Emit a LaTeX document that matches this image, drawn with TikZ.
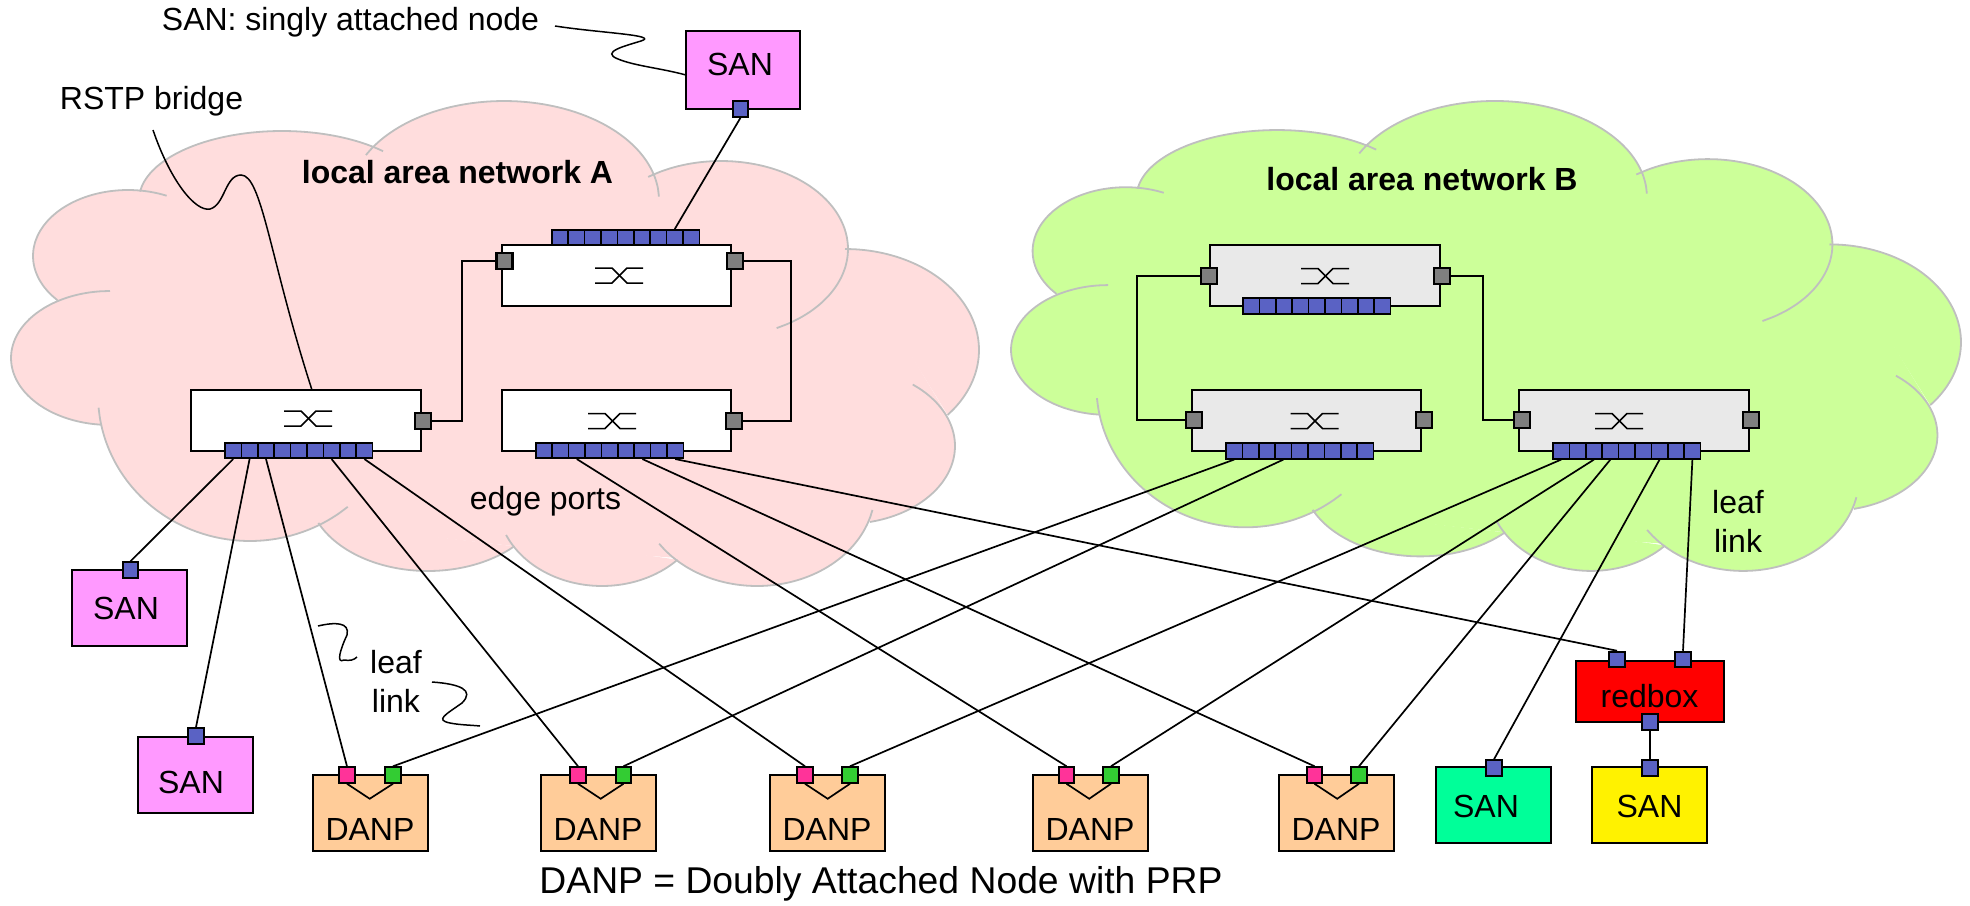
\documentclass[tikz,border=0pt]{standalone}
\usepackage{fontspec}
\setmainfont{Liberation Sans}
\definecolor{areaA}{HTML}{FFDDDD}
\definecolor{areaB}{HTML}{CCFF99}
\definecolor{outlinegray}{HTML}{BFBFBF}
\definecolor{portblue}{HTML}{5A62C4}
\definecolor{portgray}{HTML}{7F7F7F}
\definecolor{portpink}{HTML}{FF3399}
\definecolor{portgreen}{HTML}{33CC33}
\definecolor{bridgegray}{HTML}{E9E9E9}
\definecolor{sanpink}{HTML}{FF99FF}
\definecolor{danporange}{HTML}{FFCC99}
\definecolor{sangreen}{HTML}{00FF99}
\newcommand{\cloudbody}{
  (102,425) -- (57,300) -- (140,189) -- (376,147) -- (650,178) -- (848,249)
  -- (947,415) -- (870,520) -- (678,558) -- (513,546) -- (325,525) -- cycle
}
%% one bump of a cloud: centre x, centre y, radius x, radius y, from angle, to angle, looks
\newcommand{\bump}[7]{
  \path[#7] plot[domain=#5:#6,smooth,samples=30] ({#1+#3*cos(\x)},{#2+#4*sin(\x)});
}
\newcommand{\cloudlobes}[1]{
  \bump{110}{358}{99}{67}{95}{270}{#1}
  \bump{128}{256}{95}{66}{138}{294}{#1}
  \bump{282}{200}{143}{69}{187}{315}{#1}
  \bump{504}{200}{155}{99}{207}{358}{#1}
  \bump{721}{249}{127}{88}{235}{424}{#1}
  \bump{845}{350}{134}{101}{270}{400}{#1}
  \bump{845}{446}{110}{78}{308}{437}{#1}
  \bump{757}{490}{118}{96}{12}{146}{#1}
  \bump{602}{500}{105}{86}{44}{156}{#1}
  \bump{428}{490}{120}{81}{44}{156}{#1}
  \bump{250}{395}{152}{146}{50}{175}{#1}
}
\begin{document}
\begin{tikzpicture}
[x=1pt,y=-1pt,%
  boxdecorate/.style={shape=rectangle,draw,line width=2pt,inner sep=0pt},%
  stripdecorate/.style={shape=rectangle,draw,line width=1.6pt,fill=portblue,inner sep=0pt,minimum width=16.4pt,minimum height=15.5pt},%
  smallport/.style={shape=rectangle,draw,line width=2pt,inner sep=0pt,minimum width=15.5pt,minimum height=15.5pt},%
  gateport/.style={shape=rectangle,draw,line width=2.4pt,fill=portgray,inner sep=0pt,minimum width=16pt,minimum height=16pt},%
  linedecorate/.style={-,line width=1.7pt},%
  leaderline/.style={-,line width=1.5pt},%
  textdecorate/.style={inner sep=0pt,font=\fontsize{32}{38}\selectfont},%
  headdecorate/.style={inner sep=0pt,font=\fontsize{32}{38}\selectfont\bfseries},%
  pics/crossing/.style={code={
    \draw[line width=1.5pt] (-24,-7.5) -- (-7,-7.5) -- (8,7.5) -- (24,7.5);
    \draw[line width=1.5pt] (-24,7.5) -- (-7,7.5) -- (8,-7.5) -- (24,-7.5);
  }}]
\useasboundingbox (0,0) rectangle (1970,905);
%% clouds
\fill[areaA] \cloudbody;
\cloudlobes{fill=areaA}
\cloudlobes{draw=outlinegray,line width=1.8pt}
\begin{scope}[shift={(1000.2,3.1)},xscale=0.9814,yscale=0.969]
\fill[areaB] \cloudbody;
\cloudlobes{fill=areaB}
\cloudlobes{draw=outlinegray,line width=1.8pt}
\end{scope}
%% bridges
\foreach \nodename/\x/\y/\col in {bra1/616.5/275.5/white, bra2/306/420.5/white, bra3/616.5/420.5/white,
  brb1/1325/275.5/bridgegray, brb2/1306.5/420.5/bridgegray, brb3/1634/420.5/bridgegray}
{
  \node (\nodename) at (\x,\y) [boxdecorate,fill=\col,minimum width=229.5pt,minimum height=61pt] {};
}
%% switch symbols
\foreach \nodename/\x/\y in {a1/619/275.5, a2/308/418.5, a3/612/421, b1/1325/276, b2/1314.5/421, b3/1619/421}
{
  \pic (sym\nodename) at (\x,\y) {crossing};
}
%% end nodes
\foreach \nodename/\x/\y/\w/\h/\col in {sant/743/70/114/78/sanpink, sanla/129.5/608/115/76/sanpink,
  sanlb/195.5/775/115/76/sanpink, danpa/370/813/115/76/danporange, danpb/598.5/813/115/76/danporange,
  danpc/827/813/115/76/danporange, danpd/1090/813/115/76/danporange, danpe/1336/813/115/76/danporange,
  sang/1493.5/805/115/76/sangreen, sany/1649.5/805/115/76/yellow, redbox/1650/691.5/148/61/red}
{
  \node (\nodename) at (\x,\y) [boxdecorate,fill=\col,minimum width=\w pt,minimum height=\h pt] {};
}
%% port strips
\foreach \nodename/\x/\y in {a1/560/237.5, a2/233.2/450.5, a3/544/450.5, b1/1251.2/306,
  b2/1234.2/451, b3/1561.2/451}
{
  \foreach \i in {1,...,9}
  {
    \node (\nodename p\i) at ({\x+16.4*(\i-1)},\y) [stripdecorate] {};
  }
}
%% ring ports
\foreach \nodename/\x/\y in {a1l/504.5/261, a1r/735/261, a2r/423/421, a3r/734/421,
  b1l/1209/276, b1r/1442/276, b2l/1194/420, b2r/1424/420, b3l/1522/420, b3r/1751/420}
{
  \node (\nodename) at (\x,\y) [gateport] {};
}
%% single ports
\foreach \nodename/\x/\y/\col in {santp/740.5/109/portblue, sanlap/130.5/570/portblue, sanlbp/196/736/portblue,
  sangp/1494/768/portblue, sanyp/1650/768/portblue, redl/1617/659.5/portblue, redr/1683/659.5/portblue,
  redd/1650/722/portblue,
  dpa1/347/775/portpink, dpa2/578/775/portpink, dpa3/805/775/portpink, dpa4/1066.5/775/portpink, dpa5/1314.5/775/portpink,
  dpb1/393/775/portgreen, dpb2/623.5/775/portgreen, dpb3/850/775/portgreen, dpb4/1111/775/portgreen, dpb5/1359/775/portgreen}
{
  \node (\nodename) at (\x,\y) [smallport,fill=\col] {};
}
%% links
\path
\foreach \startnode/\endnode in {a2p1.south/sanlap.north, a2p2.south/sanlbp.north, a2p3.south/dpa1.north,
  a2p7.south/dpa2.north, a2p9.south/dpa3.north, a3p3.south/dpa4.north, a3p7.south/dpa5.north,
  a3p9.south/redl.north, b2p1.south/dpb1.north, b2p4.south/dpb2.north, b3p1.south/dpb3.north,
  b3p3.south/dpb4.north, b3p4.south/dpb5.north, b3p7.south/sangp.north, b3p9.south/redr.north,
  santp.south/a1p8.north, redd.south/sanyp.north}
{
  (\startnode) edge[linedecorate] (\endnode)
};
\draw[linedecorate] (a1l.west) -- ++(-33,0) |- (a2r.east);
\draw[linedecorate] (a1r.east) -- ++(47,0) |- (a3r.east);
\draw[linedecorate] (b1l.west) -- ++(-63,0) |- (b2l.west);
\draw[linedecorate] (b1r.east) -- ++(32,0) |- (b3l.west);
%% port fans inside the DANP boxes
\foreach \i in {1,...,5}
{
  \draw[linedecorate] (dpa\i.south) -- ++(22.7,15) -- (dpb\i.south);
}
%% texts
\foreach \nodename/\x/\y/\txt in {tsant/740/64/SAN, tsanla/126/608/SAN, tsanlb/191/782/SAN, tsang/1486/806/SAN,
  tsany/1649.5/806/SAN, tredbox/1649.5/696/redbox, tdanpa/370/829/DANP, tdanpb/598/829/DANP,
  tdanpc/827/829/DANP, tdanpd/1090/829/DANP, tdanpe/1336/829/DANP, tedge/545.5/501/edge ports,
  tleafa/396/662/leaf, tlinka/396/701/link, tleafb/1738/502/leaf, tlinkb/1738/541/link,
  trstp/151.5/101/RSTP bridge, tsan/350.5/22/SAN: singly attached node}
{
  \node (\nodename) at (\x,\y) [textdecorate] {\txt};
}
\node (tlana) at (457.5,172) [headdecorate] {local area network A};
\node (tlanb) at (1422,179) [headdecorate] {local area network B};
\node (tcaption) at (881,884) [textdecorate,font=\fontsize{37.3}{44}\selectfont] {DANP = Doubly Attached Node with PRP};
%% wavy pointers
\coordinate (sanfrom) at (555,26);
\coordinate (santo) at (686,75);
\draw[leaderline] (sanfrom) .. controls (600,33) and (660,35) .. (641,41)
  .. controls (625,46) and (600,52) .. (618,59) .. controls (635,66) and (660,68) .. (santo);
\coordinate (rstpfrom) at (153,130);
\coordinate (rstpto) at (312,390);
\draw[leaderline] (rstpfrom) .. controls (170,180) and (195,212) .. (210,209)
  .. controls (225,205) and (225,175) .. (241,175) .. controls (262,175) and (270,260) .. (rstpto);
\coordinate (leafafrom) at (318,626);
\coordinate (leafato) at (357,657);
\draw[leaderline] (leafafrom) .. controls (335,622) and (350,622) .. (347,635)
  .. controls (340,650) and (336,664) .. (344,660) .. controls (350,661) and (354,660) .. (leafato);
\coordinate (linkafrom) at (432,682);
\coordinate (linkato) at (480,726);
\draw[leaderline] (linkafrom) .. controls (460,684) and (475,690) .. (462,703)
  .. controls (445,715) and (435,720) .. (450,723) .. controls (460,725) and (470,725) .. (linkato);
\end{tikzpicture}
\end{document}
